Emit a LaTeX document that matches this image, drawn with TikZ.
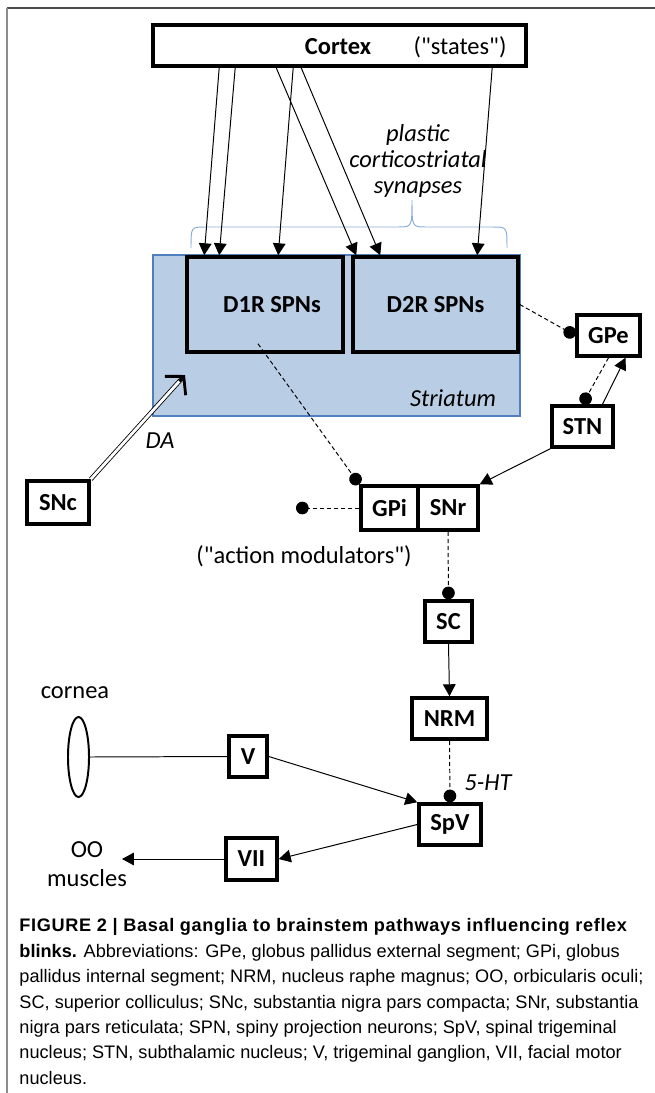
\documentclass[tikz,border=0pt]{standalone}
\usepackage{fontspec}
\setmainfont{Carlito}
\newfontfamily\capfont{Liberation Sans}
\usetikzlibrary{arrows.meta,calc,shapes.geometric}
\definecolor{striafill}{HTML}{B9CDE5}
\definecolor{striadraw}{HTML}{4F7FBF}
\definecolor{bracecol}{HTML}{8AAEDC}

\begin{document}
\fontsize{17.4}{21}\selectfont
\begin{tikzpicture}[x=0.025cm,y=-0.025cm,line width=0.7pt,
  >={Triangle[length=8.5pt,width=9pt]},
  box/.style={draw,line width=2.5pt,inner sep=0pt,font=\bfseries},
  inhib/.style={dash pattern=on 3pt off 2pt,-{Circle[length=9pt]}}]
  \useasboundingbox (0,0) rectangle (655,1093);
  \draw[black!70,line width=1.4pt] (7,8) -- (655,8);
  \draw[black!45,line width=1pt] (7,8) -- (7,1093);

  % cortex and striatum
  \node[box,minimum width=9.325cm,minimum height=1.025cm] (cortex) at (339.5,45.5) {};
  \node[font=\bfseries] (cortexlbl) at (338,47) {Cortex};
  \node (states) at (460,47) {(\textquotedbl states\textquotedbl)};
  \node[draw=striadraw,fill=striafill,line width=1pt,minimum width=9.175cm,
    minimum height=4.025cm] (striatum) at (336.5,335.5) {};
  \node[font=\itshape] (strlbl) at (453,398) {Striatum};
  \node[box,minimum width=3.9cm,minimum height=2.375cm] (d1r) at (265,304.5)
    {\hspace*{10pt}D1R SPNs};
  \node[box,minimum width=4.125cm,minimum height=2.375cm] (d2r) at (435.5,304.5) {D2R SPNs};
  \node[font=\itshape\fontsize{17.4}{18.4}\selectfont,align=center] (plastic) at (418,161)
    {plastic\\ corticostriatal\\ synapses};
  \draw[bracecol] (191,248) .. controls (191,227) .. (205,227) -- (398,227)
    .. controls (412,227) .. (412,200) .. controls (412,227) .. (426,227)
    -- (493,227) .. controls (507,227) .. (507,248);

  \draw[->] ($(cortex.south west)+(68,0)$) -- ($(d1r.north west)+(19,0)$);
  \draw[->] ($(cortex.south west)+(84,0)$) -- ($(d1r.north west)+(34,0)$);
  \draw[->] ($(cortex.south west)+(142,0)$) -- ($(d1r.north west)+(93,0)$);
  \draw[->] ($(cortex.south west)+(125,0)$) -- ($(d2r.north west)+(5,0)$);
  \draw[->] ($(cortex.south west)+(150,0)$) -- ($(d2r.north west)+(29,0)$);
  \draw[->] ($(cortex.south west)+(341,0)$) -- ($(d2r.north west)+(126,0)$);

  % basal ganglia loop
  \node[box,minimum width=1.575cm,minimum height=1.025cm] (gpe) at (608.5,335.5) {GPe};
  \node[box,minimum width=1.525cm,minimum height=1.025cm] (stn) at (582.5,426.5) {STN};
  \node[box,minimum width=1.425cm,minimum height=1.1cm] (gpi) at (389.5,508) {GPi};
  \node[box,minimum width=1.5cm,minimum height=1.1cm] (snr) at (448,508) {SNr};
  \node[box,minimum width=1.55cm,minimum height=1.075cm] (snc) at (58,502.5) {SNc};
  \node (actmod) at (304,556) {(\textquotedbl action modulators\textquotedbl)};
  \node[font=\itshape] (dalbl) at (160,441) {DA};
  \coordinate (datip) at (185,375);
  \coordinate (gpiout) at (296,508);

  \draw[inhib] (d2r.east) -- (gpe.west);
  \draw[inhib] (gpe.south) -- (stn.north);
  \draw[->] ($(stn.north)+(20,0)$) -- ($(gpe.south)+(17,0)$);
  \draw[->] (stn.south west) -- (snr.north east);
  \draw[inhib] ($(d1r.south)+(-7,-10)$) -- (gpi.north west);
  \draw[inhib] (gpi.west) -- (gpiout);
  \draw[double,double distance=2pt,line width=0.6pt,shorten >=3pt] (snc.north east) -- (datip);
  \draw[line width=2pt,-{Straight Barb[length=9pt,width=20pt]}]
    ($(datip)!6pt!(snc.north east)$) -- (datip);

  % brainstem
  \node[box,minimum width=1.175cm,minimum height=1.025cm] (sc) at (448.5,621.5) {SC};
  \node[box,minimum width=1.875cm,minimum height=1.025cm] (nrm) at (449.5,718.5) {NRM};
  \node[box,minimum width=1.55cm,minimum height=1.025cm] (spv) at (450,824.5) {SpV};
  \node[box,minimum width=0.95cm,minimum height=1.025cm] (v) at (248,756.5) {V};
  \node[box,minimum width=1.275cm,minimum height=1.05cm] (vii) at (251.5,859) {VII};
  \node[draw,ellipse,line width=1.4pt,inner sep=0pt,minimum width=0.525cm,
    minimum height=2cm] (cornea) at (78.5,757) {};
  \node (cornealbl) at (75,693) {cornea};
  \node[font=\itshape] (htlbl) at (488,783) {5-HT};
  \node[align=center] (oo) at (87,864) {OO\\ muscles};
  \coordinate (ootip) at (122,859);

  \draw[inhib] (snr.south) -- (sc.north);
  \draw[->] (sc.south) -- (nrm.north);
  \draw[inhib] (nrm.south) -- (spv.north);
  \draw (cornea.east) -- (v.west);
  \draw[->] (v.east) -- (spv.north west);
  \draw[->] (spv.west) -- (vii.east);
  \draw[->] (vii.west) -- (ootip);

  % caption
  \node[anchor=north west,align=left,inner sep=0pt,
    font=\capfont\fontsize{12.9}{18.1}\selectfont] (caption) at (19,918)
    {{\bfseries\addfontfeature{LetterSpace=3.5}FIGURE 2 | Basal ganglia to brainstem pathways influencing reflex}\\
     \textbf{blinks.} Abbreviations: GPe, globus pallidus external segment; GPi, globus\\
     pallidus internal segment; NRM, nucleus raphe magnus; OO, orbicularis oculi;\\
     SC, superior colliculus; SNc, substantia nigra pars compacta; SNr, substantia\\
     nigra pars reticulata; SPN, spiny projection neurons; SpV, spinal trigeminal\\
     nucleus; STN, subthalamic nucleus; V, trigeminal ganglion, VII, facial motor\\
     nucleus.};
\end{tikzpicture}
\end{document}
